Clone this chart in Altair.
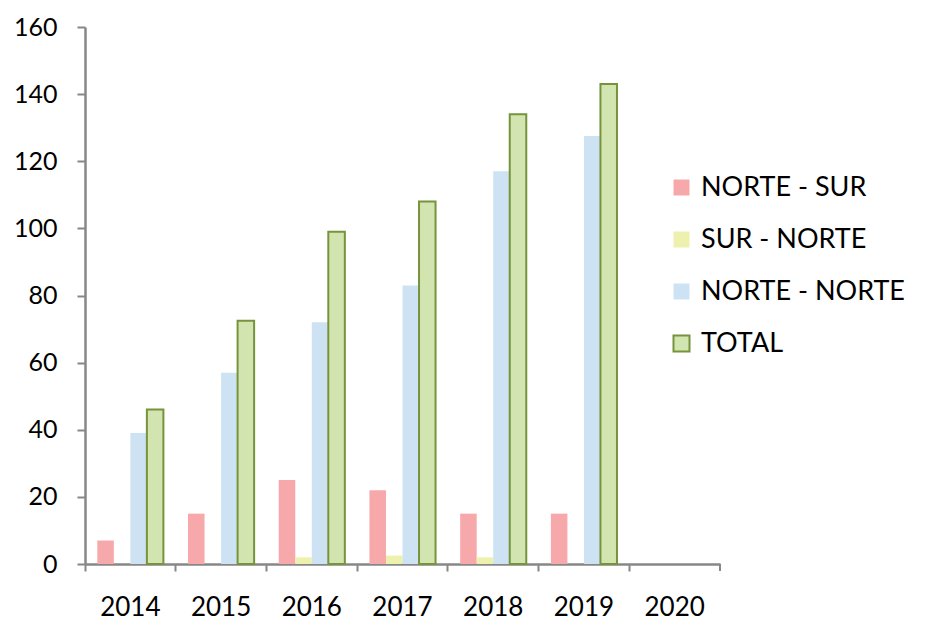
import altair as alt
import pandas as pd

years = ["2014", "2015", "2016", "2017", "2018", "2019", "2020"]
series = ["NORTE - SUR", "SUR - NORTE", "NORTE - NORTE", "TOTAL"]
norte_sur = [7, 15, 25, 22, 15, 15, 0]
sur_norte = [0, 0, 2, 2.5, 2, 0, 0]
norte_norte = [39, 57, 72, 83, 117, 127.5, 0]
total = [46, 72.5, 99, 108, 134, 143, 0]

fills = ["#F7A8AA", "#EEF1AE", "#CDE3F3", "#D2E5B1"]
strokes = ["transparent", "transparent", "transparent", "#77933C"]

rows = []
for s, vals in zip(series, [norte_sur, sur_norte, norte_norte, total]):
    for y, v in zip(years, vals):
        rows.append({"year": y, "series": s, "value": v})
df = pd.DataFrame(rows)

FONT = "Lato"
W, H = 635, 537

bars = alt.Chart(df).transform_filter("datum.value > 0").mark_bar(strokeWidth=2).encode(
    x=alt.X("year:N", sort=years, title=None,
            scale=alt.Scale(domain=years, paddingInner=0, paddingOuter=0),
            axis=alt.Axis(labelAngle=0, bandPosition=0, labelFontSize=26, labelFont=FONT,
                          labelColor="black", labelPadding=23, tickSize=7, tickWidth=2,
                          tickColor="#878787", domainColor="#878787", domainWidth=2.5,
                          labelBound=False, labelOverlap=False)),
    xOffset=alt.XOffset("series:N", sort=series,
                        scale=alt.Scale(domain=series, paddingInner=0, paddingOuter=0.745)),
    y=alt.Y("value:Q", title=None,
            scale=alt.Scale(domain=[0, 160], nice=False),
            axis=alt.Axis(values=list(range(0, 161, 20)), grid=False, labelFontSize=25,
                          labelFont=FONT, labelColor="black", labelPadding=20, tickSize=8,
                          tickWidth=2, tickColor="#878787", domainColor="#878787",
                          domainWidth=2.5)),
    color=alt.Color("series:N", sort=series, title=None,
                    scale=alt.Scale(domain=series, range=fills),
                    legend=alt.Legend(orient="none", legendX=583, legendY=147,
                                      labelFont=FONT, labelFontSize=27, labelColor="black",
                                      labelLimit=400,
                                      symbolType="square", symbolSize=256, rowPadding=24,
                                      labelOffset=6, symbolStrokeWidth=2)),
    stroke=alt.Stroke("series:N", sort=series, title=None,
                      scale=alt.Scale(domain=series, range=strokes)),
)

end_tick = alt.Chart(pd.DataFrame({"year": [years[-1]]})).mark_rule(
    color="#878787", strokeWidth=2
).encode(x=alt.value(W), y=alt.value(H), y2=alt.value(H + 7))

chart = alt.layer(bars, end_tick).properties(
    width=W, height=H,
    autosize=alt.AutoSizeParams(type="none"),
    padding={"left": 77, "top": 19, "right": 200, "bottom": 56},
).configure_view(stroke=None)

chart.save("out.html", embed_options={"renderer": "svg", "actions": False})
